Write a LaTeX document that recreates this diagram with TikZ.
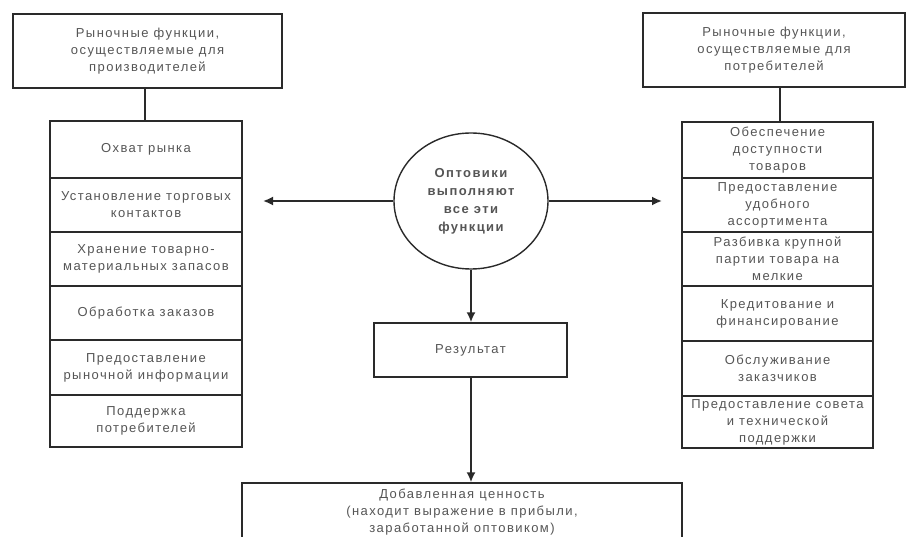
\documentclass[tikz,border=0pt]{standalone}
\usepackage{fontspec}
\setmainfont{Liberation Sans}[LetterSpace=11]
\usetikzlibrary{arrows.meta,shapes.geometric}
\definecolor{txt}{HTML}{555555}
\definecolor{ln}{HTML}{2A2A2A}
\tikzset{
  x=1pt,y=1pt,
  box/.style={draw=ln,line width=1.4pt,rectangle,inner sep=0pt,align=center,text=txt,
    font=\fontsize{13}{17}\selectfont},
  cell/.style={box,minimum width=192pt},
  rcell/.style={box,minimum width=191pt},
  conn/.style={draw=ln,line width=1.8pt},
  arr/.style={conn,-{Latex[length=10pt,width=9pt]}}
}
\begin{document}
\begin{tikzpicture}
\useasboundingbox (0,0) rectangle (906,-537);
\clip (0,0) rectangle (906,-537);
% top boxes
\node[box,minimum width=269pt,minimum height=74pt] (tl) at (147.5,-51) {Рыночные функции,\\осуществляемые для\\производителей};
\node[box,minimum width=262pt,minimum height=74pt] (tr) at (774,-50) {Рыночные функции,\\осуществляемые для\\потребителей};
% left column
\node[cell,minimum height=57pt] (l1) at (146,-149.5) {Охват рынка};
\node[cell,minimum height=54pt] (l2) at (146,-205) {Установление торговых\\контактов};
\node[cell,minimum height=54pt] (l3) at (146,-259) {Хранение товарно-\\материальных запасов};
\node[cell,minimum height=54pt] (l4) at (146,-313) {Обработка заказов};
\node[cell,minimum height=55pt] (l5) at (146,-367.5) {Предоставление\\рыночной информации};
\node[cell,minimum height=52pt] (l6) at (146,-421) {Поддержка\\потребителей};
% right column
\node[rcell,minimum height=56pt] (r1) at (777.5,-150) {Обеспечение\\доступности\\товаров};
\node[rcell,minimum height=54pt] (r2) at (777.5,-205) {Предоставление\\удобного\\ассортимента};
\node[rcell,minimum height=54pt] (r3) at (777.5,-259) {Разбивка крупной\\партии товара на\\мелкие};
\node[rcell,minimum height=55pt] (r4) at (777.5,-313.5) {Кредитование и\\финансирование};
\node[rcell,minimum height=55pt] (r5) at (777.5,-368.5) {Обслуживание\\заказчиков};
\node[rcell,minimum height=52pt] (r6) at (777.5,-422) {Предоставление совета\\и технической\\поддержки};
% centre
\node[ellipse,draw=ln,line width=1.4pt,minimum width=154pt,minimum height=136pt,inner sep=0pt,align=center,
  font=\bfseries\fontsize{13}{18}\selectfont,text=txt] (ell) at (471,-201) {Оптовики\\выполняют\\все эти\\функции};
\node[box,minimum width=193pt,minimum height=54pt] (res) at (470.5,-350) {Результат};
\node[box,minimum width=440pt,minimum height=58pt] (bot) at (462,-512) {Добавленная ценность\\(находит выражение в прибыли,\\заработанной оптовиком)};
\coordinate (la) at (263,-201);
\coordinate (ra) at (662,-201);
% connectors
\draw[conn] (145,0 |- tl.south) -- (145,0 |- l1.north);
\draw[conn] (780,0 |- tr.south) -- (780,0 |- r1.north);
\draw[arr] (ell.west) -- (la);
\draw[arr] (ell.east) -- (ra);
\draw[arr] (ell.south) -- (ell.south |- res.north);
\draw[arr] (ell.south |- res.south) -- (ell.south |- bot.north);
\end{tikzpicture}
\end{document}
